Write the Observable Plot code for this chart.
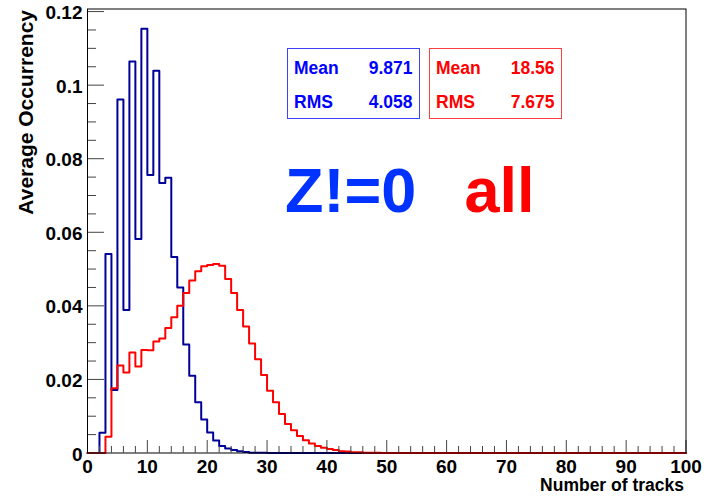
<!DOCTYPE html>
<html><head><meta charset="utf-8">
<script src="https://cdn.jsdelivr.net/npm/d3@7"></script>
<script src="https://cdn.jsdelivr.net/npm/@observablehq/plot@0.6"></script>
<style>body{margin:0;background:#fff;} svg{display:block}</style>
</head><body><div id="chart"></div>
<script>
// ---- data ----
const binEdges = d3.range(0, 101); // 100 bins of width 1 on [0,100]
const blueValues = [
  0, 0, 0.0055, 0.0541, 0.0171, 0.0961, 0.0389, 0.1064, 0.0582, 0.1153,
  0.0756, 0.1039, 0.0734, 0.0748, 0.0533, 0.0450, 0.0295, 0.0210, 0.0138, 0.0091,
  0.0056, 0.0034, 0.0019, 0.0012, 0.0008, 0.0005, 0.0003, 0.0001, 0.0001, 0.0001,
  0, 0, 0, 0, 0, 0, 0, 0, 0, 0,
  0, 0, 0, 0, 0, 0, 0, 0, 0, 0,
  0, 0, 0, 0, 0, 0, 0, 0, 0, 0,
  0, 0, 0, 0, 0, 0, 0, 0, 0, 0,
  0, 0, 0, 0, 0, 0, 0, 0, 0, 0,
  0, 0, 0, 0, 0, 0, 0, 0, 0, 0,
  0, 0, 0, 0, 0, 0, 0, 0, 0, 0
];
const redValues = [
  0, 0, 0, 0.0044, 0.0176, 0.0238, 0.0219, 0.0273, 0.0235, 0.0280,
  0.0279, 0.0303, 0.0311, 0.0340, 0.0369, 0.0400, 0.0435, 0.0469, 0.0494, 0.0508,
  0.0511, 0.0514, 0.0509, 0.0473, 0.0435, 0.0389, 0.0344, 0.0298, 0.0255, 0.0212,
  0.0169, 0.0138, 0.0106, 0.0079, 0.0062, 0.0046, 0.0035, 0.0026, 0.0019, 0.0014,
  0.0011, 0.0008, 0.0005, 0.0004, 0.0002, 0.0002, 0.0001, 0.0001, 0.0001, 0,
  0, 0, 0, 0, 0, 0, 0, 0, 0, 0,
  0, 0, 0, 0, 0, 0, 0, 0, 0, 0,
  0, 0, 0, 0, 0, 0, 0, 0, 0, 0,
  0, 0, 0, 0, 0, 0, 0, 0, 0, 0,
  0, 0, 0, 0, 0, 0, 0, 0, 0, 0
];
const xMajorTicks = [0, 10, 20, 30, 40, 50, 60, 70, 80, 90, 100];
const xTickLabels = ["0", "10", "20", "30", "40", "50", "60", "70", "80", "90", "100"];
const xMinorTicks = [2,4,6,8,12,14,16,18,22,24,26,28,32,34,36,38,42,44,46,48,52,54,56,58,62,64,66,68,72,74,76,78,82,84,86,88,92,94,96,98];
const yMajorTicks = [0, 0.02, 0.04, 0.06, 0.08, 0.1, 0.12];
const yTickLabels = ["0", "0.02", "0.04", "0.06", "0.08", "0.1", "0.12"];
const yMinorTicks = [0.005,0.01,0.015,0.025,0.03,0.035,0.045,0.05,0.055,0.065,0.07,0.075,0.085,0.09,0.095,0.105,0.11,0.115];
const statNames = ["Mean", "RMS"];
const blueStats = ["9.871", "4.058"];
const redStats = ["18.56", "7.675"];
const blueTag = "Z!=0";
const redTag = "all";
const xTitle = "Number of tracks";
const yTitle = "Average Occurrency";

// ---- layout ----
const W = 712, H = 497;
const mL = 87, mR = 26.5, mT = 8.5, mB = 44.5;
const innerW = W - mL - mR, innerH = H - mT - mB;
const FONT = "'Liberation Sans', Arial, Helvetica, sans-serif";

function steps(values) {
  return binEdges.map((e, i) => ({x: e, y: values[Math.min(i, values.length - 1)]}));
}

const svg = Plot.plot({
  width: W, height: H,
  marginLeft: mL, marginRight: mR, marginTop: mT, marginBottom: mB,
  style: {fontFamily: FONT, background: "white", color: "black"},
  x: {domain: [0, 100]},
  y: {domain: [0, 0.1207]},
  marks: [
    Plot.line(steps(blueValues), {x: "x", y: "y", curve: "step-after", stroke: "#000099", strokeWidth: 2}),
    Plot.line(steps(redValues), {x: "x", y: "y", curve: "step-after", stroke: "#ff0000", strokeWidth: 2}),
    Plot.tickX(xMajorTicks, {x: d => d, stroke: "#444", insetTop: innerH - 12.5}),
    Plot.tickX(xMinorTicks, {x: d => d, stroke: "#444", insetTop: innerH - 6.5}),
    Plot.tickY(yMajorTicks, {y: d => d, stroke: "#444", insetRight: innerW - 17}),
    Plot.tickY(yMinorTicks, {y: d => d, stroke: "#444", insetRight: innerW - 9}),
    Plot.frame({stroke: "black"}),
    Plot.axisX({ticks: xMajorTicks, tickFormat: d => xTickLabels[xMajorTicks.indexOf(d)], tickSize: 0, tickPadding: 6,
      fontSize: 19, fontWeight: "bold", label: null}),
    Plot.axisY({ticks: yMajorTicks, tickFormat: d => yTickLabels[yMajorTicks.indexOf(d)], tickSize: 0, tickPadding: 5,
      dy: 1.5, fontSize: 19, fontWeight: "bold", label: null})
  ]
});

const s = d3.select(svg);
s.style("font-family", FONT);

// axis titles
s.append("text").text(xTitle)
  .attr("x", 684).attr("y", 491)
  .attr("text-anchor", "end").attr("font-size", 17.5).attr("font-weight", "bold").attr("fill", "black");
s.append("text").text(yTitle)
  .attr("transform", "translate(33,10) rotate(-90)")
  .attr("text-anchor", "end").attr("font-size", 21).attr("font-weight", "bold").attr("fill", "black");

// stat boxes
function statBox(x0, stats, textColor, boxColor) {
  const g = s.append("g");
  g.append("rect").attr("x", x0 + 0.5).attr("y", 48.5).attr("width", 132).attr("height", 70)
    .attr("fill", "white").attr("stroke", boxColor).attr("stroke-width", 1);
  statNames.forEach((n, i) => {
    const yb = 73.5 + i * 34.3;
    g.append("text").text(n).attr("x", x0 + 7).attr("y", yb).attr("text-anchor", "start")
      .attr("font-size", 17.5).attr("font-weight", "bold").attr("fill", textColor);
    g.append("text").text(stats[i]).attr("x", x0 + 125.5).attr("y", yb).attr("text-anchor", "end")
      .attr("font-size", 17.5).attr("font-weight", "bold").attr("fill", textColor);
  });
}
statBox(287, blueStats, "#0000ff", "#4040ff");
statBox(429, redStats, "#ff0000", "#ff4040");

// big labels
s.append("text").text(blueTag).attr("x", 285).attr("y", 211.5).attr("text-anchor", "start")
  .attr("font-size", 63).attr("font-weight", "bold").attr("fill", "#0033ff");
s.append("text").text(redTag).attr("x", 464.5).attr("y", 211.5).attr("text-anchor", "start")
  .attr("font-size", 63).attr("font-weight", "bold").attr("fill", "#ff0000");

document.getElementById("chart").appendChild(svg);
</script>
</body></html>
